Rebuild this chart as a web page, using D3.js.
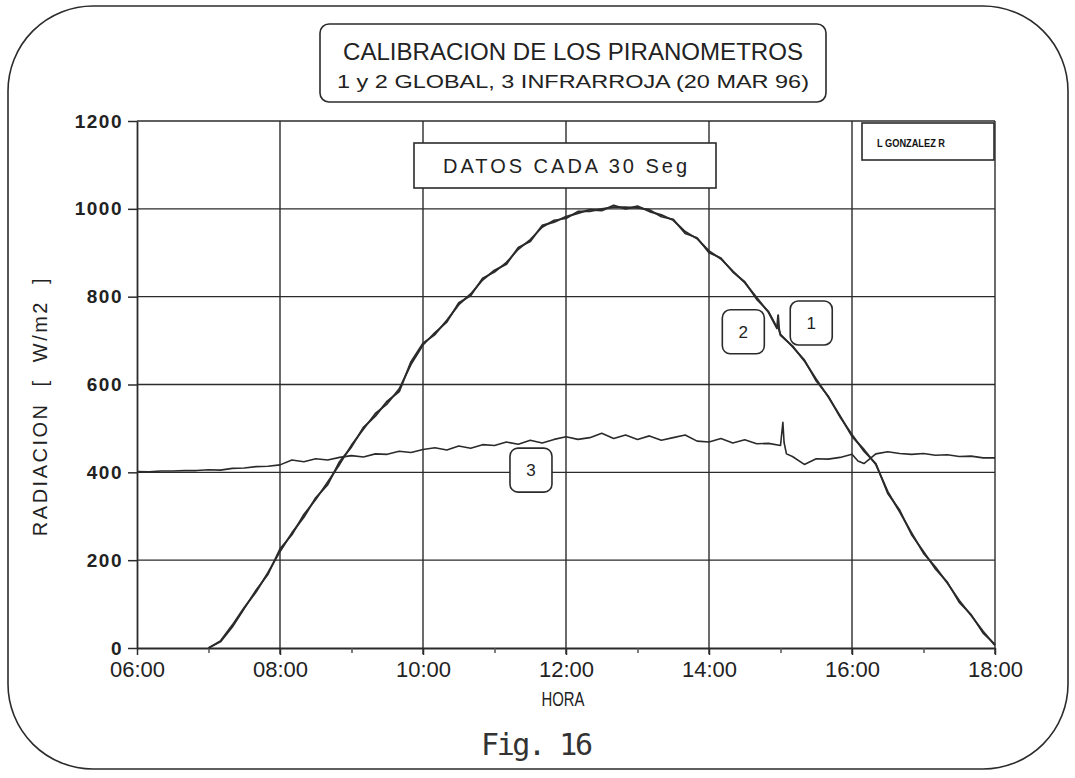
<!DOCTYPE html>
<html><head><meta charset="utf-8">
<script src="https://cdn.jsdelivr.net/npm/d3@7"></script>
<style>
body{margin:0;background:#fff;}
svg{display:block;}
</style></head>
<body>
<svg id="c" width="1075" height="778"></svg>
<script>
// ---------- DATA ----------
const tickHoras = ["06:00","08:00","10:00","12:00","14:00","16:00","18:00"];
const tickRad = [0,200,400,600,800,1000,1200];

const horasG = ["07:00","07:10","07:20","07:30","07:40","07:50",
 "08:00","08:10","08:20","08:30","08:40","08:50",
 "09:00","09:10","09:20","09:30","09:40","09:50",
 "10:00","10:10","10:20","10:30","10:40","10:50",
 "11:00","11:10","11:20","11:30","11:40","11:50",
 "12:00","12:10","12:20","12:30","12:40","12:50",
 "13:00","13:10","13:20","13:30","13:40","13:50",
 "14:00","14:10","14:20","14:30","14:40","14:50","14:57","14:58","14:59",
 "15:00","15:10","15:20","15:30","15:40","15:50",
 "16:00","16:10","16:20","16:30","16:40","16:50",
 "17:00","17:10","17:20","17:30","17:40","17:50","18:00"];

const piranometro1 = [0,16,52,92,128,172,
 220,262,298,342,372,424,
 458,502,528,562,584,652,
 694,714,746,782,806,838,
 860,874,912,926,962,970,
 982,990,998,996,1008,1000,
 1006,994,986,974,948,932,
 904,886,858,832,798,764,728,758,722,
 712,688,654,612,572,528,
 482,452,418,356,310,262,
 216,184,148,108,74,38,6];

const piranometro2 = [0,14,48,90,132,168,
 226,258,304,338,378,418,
 462,498,534,556,590,646,
 690,718,742,786,802,842,
 856,878,908,930,958,974,
 978,994,994,1000,1004,1004,
 1002,998,982,976,944,934,
 900,888,856,834,794,766,730,728,724,
 714,686,656,608,574,526,
 486,448,420,352,314,258,
 220,180,150,104,76,34,8];

const horasIR = ["06:00","06:10","06:20","06:30","06:40","06:50",
 "07:00","07:10","07:20","07:30","07:40","07:50",
 "08:00","08:10","08:20","08:30","08:40","08:50",
 "09:00","09:10","09:20","09:30","09:40","09:50",
 "10:00","10:10","10:20","10:30","10:40","10:50",
 "11:00","11:10","11:20","11:30","11:40","11:50",
 "12:00","12:10","12:20","12:30","12:40","12:50",
 "13:00","13:10","13:20","13:30","13:40","13:50",
 "14:00","14:10","14:20","14:30","14:40","14:50",
 "15:00","15:02","15:03","15:05","15:10","15:20","15:30","15:40","15:50",
 "16:00","16:05","16:10","16:20","16:30","16:40","16:50",
 "17:00","17:10","17:20","17:30","17:40","17:50","18:00"];

const infrarrojo3 = [402,401,403,403,404,404,
 406,405,409,410,413,414,
 417,428,424,431,428,434,
 438,435,442,441,448,445,
 452,456,451,460,455,463,
 461,469,464,473,467,475,
 481,475,479,489,477,485,
 475,483,473,479,485,471,
 469,477,467,474,465,466,
 461,514,468,442,436,418,431,430,434,
 441,426,420,442,447,443,441,
 443,439,440,436,437,433,433];

const etiquetas = [
  {txt:"1", hora:15.43, rad:740},
  {txt:"2", hora:14.48, rad:720},
  {txt:"3", hora:11.51, rad:405}
];

// ---------- DRAW ----------
const svg = d3.select("#c");
const ink = "#2b2b2b";
const sans = "'Liberation Sans',Arial,sans-serif";
const toH = s => { const [h,m]=s.split(":").map(Number); return h + m/60; };

const x = d3.scaleLinear().domain([6,18]).range([137,995]);
const y = d3.scaleLinear().domain([0,1200]).range([648,121]);

// outer rounded frame
svg.append("rect").attr("x",8).attr("y",6).attr("width",1060).attr("height",763)
  .attr("rx",85).attr("ry",85).attr("fill","none").attr("stroke",ink).attr("stroke-width",1.6);

// horizontal grid
svg.append("g").selectAll("line").data(tickRad.filter(v=>v>0)).join("line")
  .attr("x1",x(6)).attr("x2",x(18)).attr("y1",d=>y(d)).attr("y2",d=>y(d))
  .attr("stroke",ink).attr("stroke-width",1.4);

// vertical grid
svg.append("g").selectAll("line").data(tickHoras.map(toH).filter(h=>h>6)).join("line")
  .attr("x1",d=>x(d)).attr("x2",d=>x(d)).attr("y1",y(1200)).attr("y2",y(0)+6)
  .attr("stroke",ink).attr("stroke-width",1.4);

// axes
const yAxis = svg.append("g").attr("transform",`translate(${x(6)},0)`)
  .call(d3.axisLeft(y).tickValues(tickRad).tickSize(9).tickSizeOuter(0).tickPadding(5).tickFormat(d3.format("d")));
yAxis.select(".domain").attr("stroke",ink).attr("stroke-width",1.8);
yAxis.selectAll(".tick line").attr("stroke",ink).attr("stroke-width",1.5);
yAxis.selectAll("text").attr("font-family",sans)
  .attr("font-weight","bold").attr("font-size",19).attr("letter-spacing",1.5).attr("fill","#222");

const xAxis = svg.append("g").attr("transform",`translate(0,${y(0)})`)
  .call(d3.axisBottom(x).tickValues(tickHoras.map(toH)).tickSize(7).tickSizeOuter(0).tickPadding(6)
    .tickFormat((d,i)=>tickHoras[i]));
xAxis.select(".domain").attr("stroke",ink).attr("stroke-width",1.8);
xAxis.selectAll(".tick line").attr("stroke",ink).attr("stroke-width",1.5);
xAxis.selectAll("text").attr("font-family",sans)
  .attr("font-size",22).attr("fill","#222");

const xMinor = svg.append("g").attr("transform",`translate(0,${y(0)})`)
  .call(d3.axisBottom(x).tickValues([7,9,11,13,15,17]).tickSize(5).tickSizeOuter(0).tickFormat(""));
xMinor.select(".domain").remove();
xMinor.selectAll(".tick line").attr("stroke","#555").attr("stroke-width",1.5);

// lines
const line = (horas) => d3.line().x((d,i)=>x(toH(horas[i]))).y(d=>y(d));
svg.append("path").datum(infrarrojo3).attr("d",line(horasIR))
  .attr("fill","none").attr("stroke",ink).attr("stroke-width",1.6).attr("stroke-linejoin","round");
svg.append("path").datum(piranometro2).attr("d",line(horasG))
  .attr("fill","none").attr("stroke",ink).attr("stroke-width",1.7).attr("stroke-linejoin","round");
svg.append("path").datum(piranometro1).attr("d",line(horasG))
  .attr("fill","none").attr("stroke",ink).attr("stroke-width",1.9).attr("stroke-linejoin","round");

// series labels
const lab = svg.append("g").selectAll("g").data(etiquetas).join("g")
  .attr("transform",d=>`translate(${x(d.hora)},${y(d.rad)})`);
lab.append("rect").attr("x",-21).attr("y",-22).attr("width",42).attr("height",44)
  .attr("rx",8).attr("fill","#fff").attr("stroke",ink).attr("stroke-width",1.6);
lab.append("text").text(d=>d.txt).attr("text-anchor","middle").attr("dy","0.36em")
  .attr("font-family",sans).attr("font-size",17).attr("fill","#222");

// title box
svg.append("rect").attr("x",320).attr("y",24).attr("width",506).attr("height",78).attr("rx",9)
  .attr("fill","#fff").attr("stroke",ink).attr("stroke-width",1.6);
svg.append("text").text("CALIBRACION DE LOS PIRANOMETROS").attr("x",573).attr("y",60)
  .attr("text-anchor","middle").attr("font-family",sans)
  .attr("font-size",23).attr("fill","#222").attr("textLength",460).attr("lengthAdjust","spacingAndGlyphs");
svg.append("text").text("1 y 2 GLOBAL,  3 INFRARROJA (20 MAR 96)").attr("x",573).attr("y",88)
  .attr("text-anchor","middle").attr("font-family",sans)
  .attr("font-size",19).attr("fill","#222").attr("textLength",472).attr("lengthAdjust","spacingAndGlyphs");

// datos box
svg.append("rect").attr("x",414).attr("y",143).attr("width",302).attr("height",45)
  .attr("fill","#fff").attr("stroke",ink).attr("stroke-width",1.6);
svg.append("text").text("DATOS CADA 30 Seg").attr("x",565).attr("y",173)
  .attr("text-anchor","middle").attr("font-family",sans)
  .attr("font-size",20).attr("fill","#222").attr("textLength",244).attr("lengthAdjust","spacing");

// author box
svg.append("rect").attr("x",862).attr("y",123).attr("width",132).attr("height",37)
  .attr("fill","#fff").attr("stroke",ink).attr("stroke-width",1.6);
svg.append("text").text("L GONZALEZ R").attr("x",911).attr("y",147)
  .attr("text-anchor","middle").attr("font-family",sans)
  .attr("font-weight","bold").attr("font-size",10).attr("fill","#111")
  .attr("textLength",68).attr("lengthAdjust","spacingAndGlyphs");

// axis titles
svg.append("text").text("RADIACION  [  W/m2  ]")
  .attr("transform","translate(47,406) rotate(-90)").attr("text-anchor","middle")
  .attr("font-family",sans).attr("font-size",20).attr("letter-spacing",2.5).attr("fill","#222")
  .style("white-space","pre");
svg.append("text").text("HORA").attr("x",563).attr("y",706).attr("text-anchor","middle")
  .attr("font-family",sans).attr("font-size",21).attr("fill","#222")
  .attr("textLength",43).attr("lengthAdjust","spacingAndGlyphs");

// figure caption
svg.append("text").text("Fig. 16").attr("x",537).attr("y",755).attr("text-anchor","middle")
  .attr("font-family","'DejaVu Sans Mono',monospace").attr("font-weight",200)
  .attr("font-size",30).attr("fill","#333").attr("textLength",112).attr("lengthAdjust","spacing");
</script>
</body></html>
